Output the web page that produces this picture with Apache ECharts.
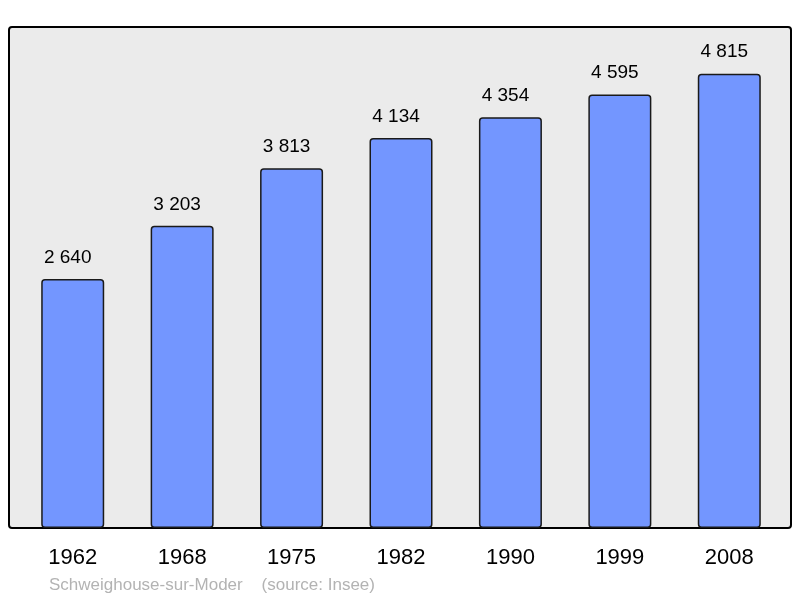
<!DOCTYPE html>
<html>
<head>
<meta charset="utf-8">
<script src="https://cdn.jsdelivr.net/npm/echarts@6/dist/echarts.min.js"></script>
<style>html,body{margin:0;padding:0;background:#fff;}#c{width:800px;height:598px;}</style>
</head>
<body>
<div id="c"></div>
<script>
const years = ['1962', '1968', '1975', '1982', '1990', '1999', '2008'];
const population = [2640, 3203, 3813, 4134, 4354, 4595, 4815];
const sourceText = 'Schweighouse-sur-Moder    (source: Insee)';

const chart = echarts.init(document.getElementById('c'));
chart.setOption({
  animation: false,
  backgroundColor: '#fff',
  textStyle: { fontFamily: 'Liberation Sans, Arial, sans-serif' },
  grid: { left: 18, right: 16, top: 27, bottom: 70 },
  graphic: [
    {
      type: 'rect', z: 0, silent: true,
      shape: { x: 9, y: 27, width: 782, height: 501, r: 3 },
      style: { fill: '#ebebeb', stroke: '#000', lineWidth: 2 }
    },
    {
      type: 'text', z: 5, left: 49, top: 577,
      style: { text: sourceText, fill: '#b3b3b3', font: '17px "Liberation Sans", Arial, sans-serif' }
    }
  ],
  xAxis: {
    type: 'category', data: years,
    axisLine: { show: false }, axisTick: { show: false },
    axisLabel: { color: '#000', fontSize: 22, margin: 19, fontFamily: 'Liberation Sans' }
  },
  yAxis: { type: 'value', min: 0, max: 5310, show: false, splitLine: { show: false } },
  series: [{
    type: 'bar', data: population, barWidth: 63, z: 3,
    itemStyle: { color: '#7396ff', borderColor: '#1a1a1a', borderWidth: 1.5, borderRadius: 3 },
    label: {
      show: true, position: 'top', distance: 12, color: '#000', fontSize: 19,
      fontFamily: 'Liberation Sans', offset: [-5, 0],
      formatter: p => String(p.value).replace(/\B(?=(\d{3})+(?!\d))/g, ' ')
    }
  }]
});
</script>
</body>
</html>
